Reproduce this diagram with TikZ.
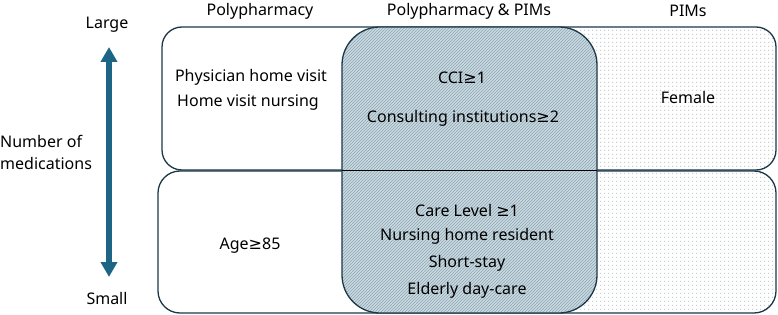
\documentclass[tikz,border=0pt]{standalone}
\usepackage{fontspec}
\setmainfont{Noto Sans}
\newfontfamily\symf{DejaVu Sans}
\usetikzlibrary{patterns,patterns.meta,arrows.meta}
\definecolor{edge}{HTML}{1C3848}
\definecolor{arr}{HTML}{1D6587}
\definecolor{midfill}{HTML}{CBDAE2}
\definecolor{hatch}{HTML}{8EA6B2}
\definecolor{dotc}{HTML}{7A8E98}
\newcommand{\mygeq}{{\symf ≥}}
\tikzdeclarepattern{
  name=mydots,
  type=uncolored,
  bounding box={(0pt,0pt) and (4.1pt,4.1pt)},
  tile size={(4.1pt,4.1pt)},
  code={\pgfpathrectangle{\pgfpoint{1.6pt}{1.6pt}}{\pgfpoint{1pt}{1pt}}\pgfusepath{fill}}
}
\begin{document}
\begin{tikzpicture}[x=1pt,y=-1pt,
  lbl/.style={font=\fontsize{16}{18}\selectfont, inner sep=0pt, anchor=center},
  boxline/.style={draw=edge, line width=1.3pt}]
\useasboundingbox (0,0) rectangle (778,315);
% dotted PIMs region
\begin{scope}
\clip (470,0) rectangle (778,315);
\fill[pattern=mydots, pattern color=dotc] (162,27) [rounded corners=20pt] rectangle (776,170);
\fill[pattern=mydots, pattern color=dotc] (158,171) [rounded corners=22pt] rectangle (776,313);
\end{scope}
% outer boxes
\draw[boxline, rounded corners=20pt] (162,27) rectangle (776,170);
\draw[boxline, rounded corners=22pt] (158,171) rectangle (776,313);
% middle box
\fill[midfill, rounded corners=38pt] (342,27) rectangle (597,313);
\fill[pattern=north east lines, pattern color=hatch, rounded corners=38pt] (342,27) rectangle (597,313);
\draw[boxline, rounded corners=38pt] (342,27) rectangle (597,313);
\draw[draw=black, line width=1.6pt] (342,170.5) -- (597,170.5);
% arrow
\coordinate (atop) at (109,47);
\coordinate (abot) at (109,277);
\draw[arr, line width=6pt, {Triangle[width=16pt,length=15pt]}-{Triangle[width=16pt,length=15pt]}] (abot) -- (atop);
% headings
\node[lbl] (h1) at (260,11) {Polypharmacy};
\node[lbl] (h2) at (469,11) {Polypharmacy \& PIMs};
\node[lbl] (h3) at (688,11) {PIMs};
\node[lbl] (large) at (107,25) {Large};
\node[lbl] (small) at (107,298) {Small};
\node[lbl, anchor=west, align=left, font=\fontsize{16}{22}\selectfont] (num) at (0,152) {Number of\\ medications};
% contents
\node[lbl] (t1) at (251,77) {Physician home visit};
\node[lbl] (t2) at (248,103) {Home visit nursing};
\node[lbl] (t3) at (688,98) {Female};
\node[lbl] (t4) at (462,78) {CCI\mygeq1};
\node[lbl] (t5) at (463,118) {Consulting institutions\mygeq2};
\node[lbl] (t6) at (250,246) {Age\mygeq85};
\node[lbl] (t7) at (467,210) {Care Level \mygeq1};
\node[lbl] (t8) at (467,236) {Nursing home resident};
\node[lbl] (t9) at (467,263) {Short-stay};
\node[lbl] (t10) at (467,290) {Elderly day-care};
\end{tikzpicture}
\end{document}
